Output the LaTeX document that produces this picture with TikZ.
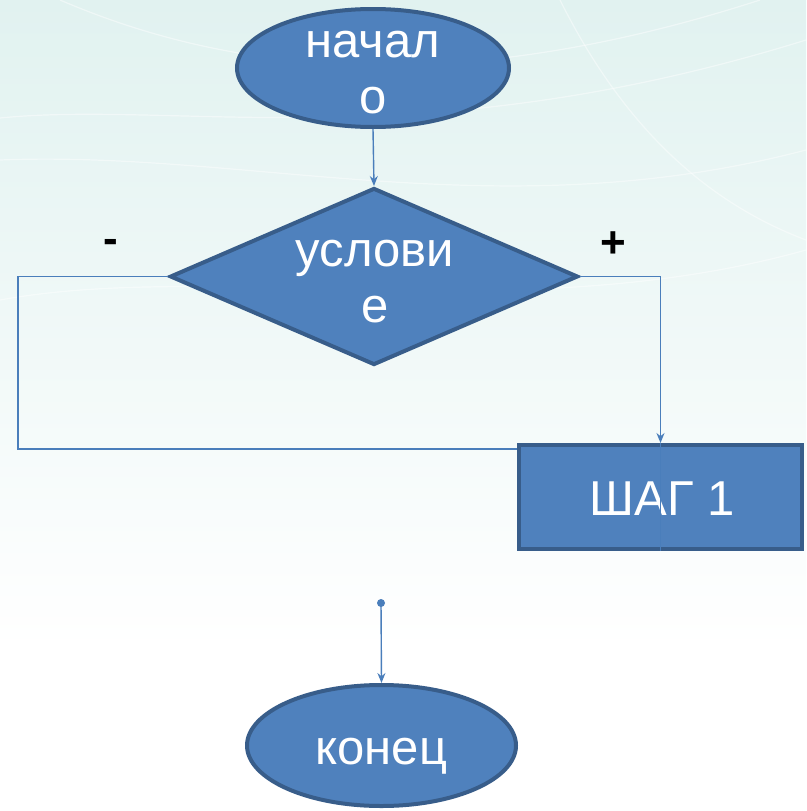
\documentclass[tikz,border=0pt]{standalone}
\usepackage{fontspec}
\setmainfont{Liberation Sans}
\usetikzlibrary{shapes.geometric,arrows.meta}
\definecolor{shapefill}{HTML}{4F81BD}
\definecolor{shapeline}{HTML}{385D8A}
\definecolor{connc}{HTML}{4A7EBB}
\definecolor{bgtop}{HTML}{CFEAE7}
\pgfdeclareverticalshading{bgshade}{100bp}{color(0bp)=(white); color(35bp)=(white); color(70bp)=(bgtop!55!white); color(100bp)=(bgtop)}
\tikzset{
  txt/.style={font=\fontsize{49}{56}\selectfont, text=white, align=center, inner sep=0pt},
  blockshape/.style={fill=shapefill, draw=shapeline, line width=4pt, inner sep=0pt},
  conn/.style={draw=connc, line width=1.4pt},
  arr/.style={conn, -{Stealth[length=10pt,width=8pt]}},
  pm/.style={font=\bfseries\fontsize{44}{48}\selectfont, text=black, inner sep=0pt}
}
\begin{document}
\begin{tikzpicture}[x=1pt, y=-1pt]
\useasboundingbox (0,0) rectangle (806,811);
\fill[shading=bgshade] (0,0) rectangle (806,811);
% faint decorative strokes
\begin{scope}[white, opacity=0.45, line width=1.2pt]
\draw (0,118) .. controls (180,100) and (420,160) .. (806,40);
\draw (0,160) .. controls (250,150) and (500,230) .. (806,150);
\draw (60,0) .. controls (200,60) and (420,110) .. (760,0);
\draw (0,300) .. controls (220,260) and (520,330) .. (806,250);
\draw (560,0) .. controls (620,120) and (700,200) .. (806,240);
\end{scope}
% shapes
\node[blockshape, ellipse, minimum width=272pt, minimum height=118pt] (start) at (373,68) {};
\node[txt, anchor=base] (startt) at (373,113) {начал\\о};
\node[blockshape, diamond, minimum width=408pt, minimum height=177pt] (cond) at (374,276.5) {};
\node[txt, anchor=base] (condt) at (375,322) {услови\\е};
\node[blockshape, rectangle, minimum width=283pt, minimum height=104pt] (step) at (660.5,497) {};
\node[txt, anchor=base] (stept) at (662,515) {ШАГ 1};
\node[blockshape, ellipse, minimum width=269pt, minimum height=121pt] (end) at (381.5,745.5) {};
\node[txt, anchor=base] (endt) at (381.5,764) {конец};
% labels
\node[pm] (minus) at (111,246) {-};
\node[pm] (plus) at (613,245) {+};
% connectors
\coordinate (lc) at (18,449);
\coordinate (dot) at (381,603);
\draw[arr] (start.south) -- (cond.north);
\draw[arr] (cond.east) -| (step.north);
\draw[conn] (step.north) -- (step.south);
\draw[conn] (cond.west) -| (lc) -- (lc -| step.west);
\fill[connc] (dot) circle (4pt);
\draw[arr] (dot) -- (end.north);
\end{tikzpicture}
\end{document}
